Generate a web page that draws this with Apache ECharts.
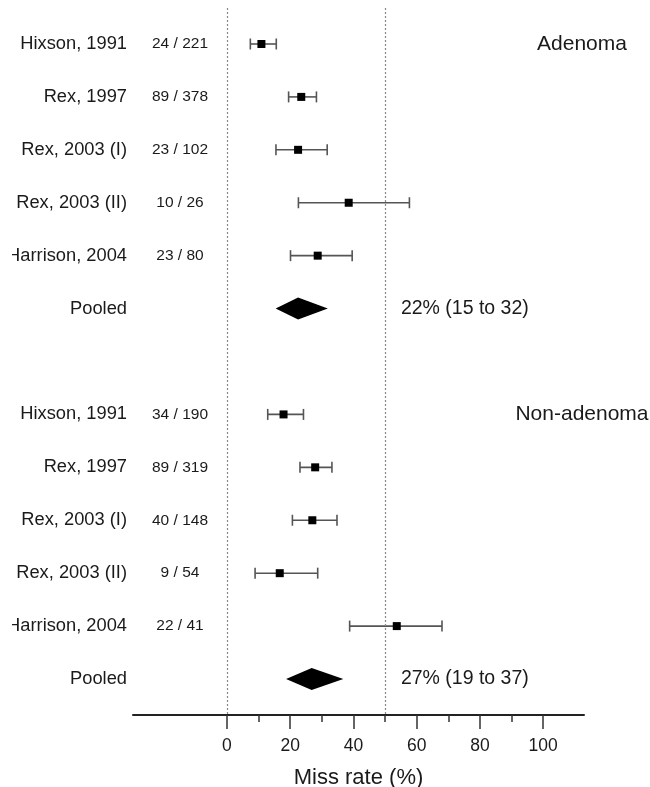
<!DOCTYPE html>
<html><head><meta charset="utf-8">
<script src="https://cdn.jsdelivr.net/npm/echarts@6/dist/echarts.min.js"></script>
<style>html,body{margin:0;padding:0;background:#fff}#c{width:650px;height:787px}</style>
</head><body><div id="c"></div>
<script>
// ---- data ----
const studies = ['Hixson, 1991', 'Rex, 1997', 'Rex, 2003 (I)', 'Rex, 2003 (II)', 'Harrison, 2004'];
const groups = ['Adenoma', 'Non-adenoma'];

const adenomaCounts = ['24 / 221', '89 / 378', '23 / 102', '10 / 26', '23 / 80'];
const adenomaRate = [10.9, 23.5, 22.5, 38.5, 28.7];
const adenomaLo = [7.4, 19.5, 15.5, 22.6, 20.1];
const adenomaHi = [15.6, 28.3, 31.7, 57.7, 39.6];
const adenomaPooled = [22.5, 15.4, 31.9];          // point, low, high
const adenomaPooledText = '22% (15 to 32)';

const nonCounts = ['34 / 190', '89 / 319', '40 / 148', '9 / 54', '22 / 41'];
const nonRate = [17.9, 27.9, 27.0, 16.7, 53.7];
const nonLo = [12.9, 23.1, 20.7, 8.9, 38.8];
const nonHi = [24.2, 33.2, 34.8, 28.7, 68.0];
const nonPooled = [26.8, 18.7, 36.8];
const nonPooledText = '27% (19 to 37)';

const pooledLabel = 'Pooled';
const xTicks = [0, 20, 40, 60, 80, 100];
const xMinorTicks = [10, 30, 50, 70, 90];
const refLines = [0, 50];
const axisTitle = 'Miss rate (%)';

// ---- build ----
const FONT = '"Liberation Sans", Arial, Helvetica, sans-serif';
const TXT = '#1a1a1a';
const X_MIN = -29.7, X_MAX = 112.9;
const groupData = [
  { counts: adenomaCounts, rate: adenomaRate, lo: adenomaLo, hi: adenomaHi, pooled: adenomaPooled, text: adenomaPooledText },
  { counts: nonCounts, rate: nonRate, lo: nonLo, hi: nonHi, pooled: nonPooled, text: nonPooledText }
];

const barData = [], pointData = [], diamondData = [], labelRows = [];
groupData.forEach((g, gi) => {
  const base = gi * 7;
  studies.forEach((s, i) => {
    const row = base + i;
    barData.push([g.lo[i], g.hi[i], row]);
    pointData.push([g.rate[i], row]);
    labelRows.push({ row, name: s, count: g.counts[i], title: i === 0 ? groups[gi] : null, pooledText: null });
  });
  const prow = base + studies.length;
  diamondData.push([g.pooled[0], g.pooled[1], g.pooled[2], prow]);
  labelRows.push({ row: prow, name: pooledLabel, count: null, title: null, pooledText: g.text });
});

const chart = echarts.init(document.getElementById('c'), null, { renderer: 'canvas' });
chart.setOption({
  animation: false,
  backgroundColor: '#fff',
  grid: { left: 133, right: 66, top: 8, bottom: 72, containLabel: false, outerBoundsMode: 'none' },
  xAxis: [{
    type: 'value', min: X_MIN, max: X_MAX, position: 'bottom',
    splitLine: { show: false },
    axisLine: { show: true, onZero: false, lineStyle: { color: '#222', width: 2 } },
    axisTick: { show: true, customValues: xTicks, length: 14, lineStyle: { color: '#333', width: 1.5 } },
    axisLabel: { customValues: xTicks, margin: 22, fontSize: 17.5, color: TXT, fontFamily: FONT },
    name: axisTitle, nameLocation: 'middle', nameGap: 52,
    nameTextStyle: { fontSize: 22, color: TXT, fontFamily: FONT }
  }, {
    type: 'value', min: X_MIN, max: X_MAX, position: 'bottom', gridIndex: 0,
    splitLine: { show: false },
    axisLine: { show: false, onZero: false },
    axisTick: { show: true, customValues: xMinorTicks, length: 7, lineStyle: { color: '#333', width: 1.5 } },
    axisLabel: { show: false }
  }],
  yAxis: {
    type: 'value', inverse: true, min: -0.68, max: 12.68, show: false
  },
  graphic: [{ type: 'rect', z: 100, shape: { x: 0, y: 0, width: 12, height: 787 }, style: { fill: '#fff' } }],
  series: [
    {
      type: 'custom', name: 'ci', clip: false, z: 3,
      data: barData,
      encode: { x: [0, 1], y: 2 },
      renderItem(params, api) {
        const a = api.coord([api.value(0), api.value(2)]);
        const b = api.coord([api.value(1), api.value(2)]);
        const h = 5.5;
        const st = { stroke: '#555', lineWidth: 1.6 };
        return { type: 'group', children: [
          { type: 'line', shape: { x1: a[0], y1: a[1], x2: b[0], y2: b[1] }, style: st },
          { type: 'line', shape: { x1: a[0], y1: a[1] - h, x2: a[0], y2: a[1] + h }, style: st },
          { type: 'line', shape: { x1: b[0], y1: b[1] - h, x2: b[0], y2: b[1] + h }, style: st }
        ]};
      },
      markLine: {
        silent: true, symbol: 'none', label: { show: false },
        lineStyle: { color: '#888', type: [2, 2], width: 1.2 },
        data: refLines.map(v => ({ xAxis: v }))
      }
    },
    {
      type: 'scatter', name: 'rate', symbol: 'rect', symbolSize: 8, z: 4,
      itemStyle: { color: '#000', opacity: 1 }, data: pointData
    },
    {
      type: 'custom', name: 'pooled', clip: false, z: 4,
      data: diamondData,
      encode: { x: [0, 1, 2], y: 3 },
      renderItem(params, api) {
        const r = api.value(3);
        const c = api.coord([api.value(0), r]);
        const l = api.coord([api.value(1), r]);
        const h = api.coord([api.value(2), r]);
        const hh = 11;
        return { type: 'polygon', shape: { points: [[l[0], c[1]], [c[0], c[1] - hh], [h[0], c[1]], [c[0], c[1] + hh]] },
          style: { fill: '#000' } };
      }
    },
    {
      type: 'custom', name: 'labels', clip: false, z: 5,
      data: labelRows.map(d => [d.row]),
      encode: { y: 0 },
      renderItem(params, api) {
        const d = labelRows[params.dataIndex];
        const y = api.coord([0, d.row])[1];
        const kids = [{ type: 'text', style: { x: 127, y: y, text: d.name, align: 'right', verticalAlign: 'middle',
          font: '18.3px ' + FONT, fill: TXT } }];
        if (d.count) kids.push({ type: 'text', style: { x: 180, y: y, text: d.count, align: 'center', verticalAlign: 'middle',
          font: '15.5px ' + FONT, fill: TXT } });
        if (d.pooledText) kids.push({ type: 'text', style: { x: api.coord([55, d.row])[0], y: y, text: d.pooledText,
          align: 'left', verticalAlign: 'middle', font: '19.5px ' + FONT, fill: TXT } });
        if (d.title) kids.push({ type: 'text', style: { x: 582, y: y, text: d.title, align: 'center', verticalAlign: 'middle',
          font: '21px ' + FONT, fill: TXT } });
        return { type: 'group', children: kids };
      }
    }
  ]
});
</script>
</body></html>
